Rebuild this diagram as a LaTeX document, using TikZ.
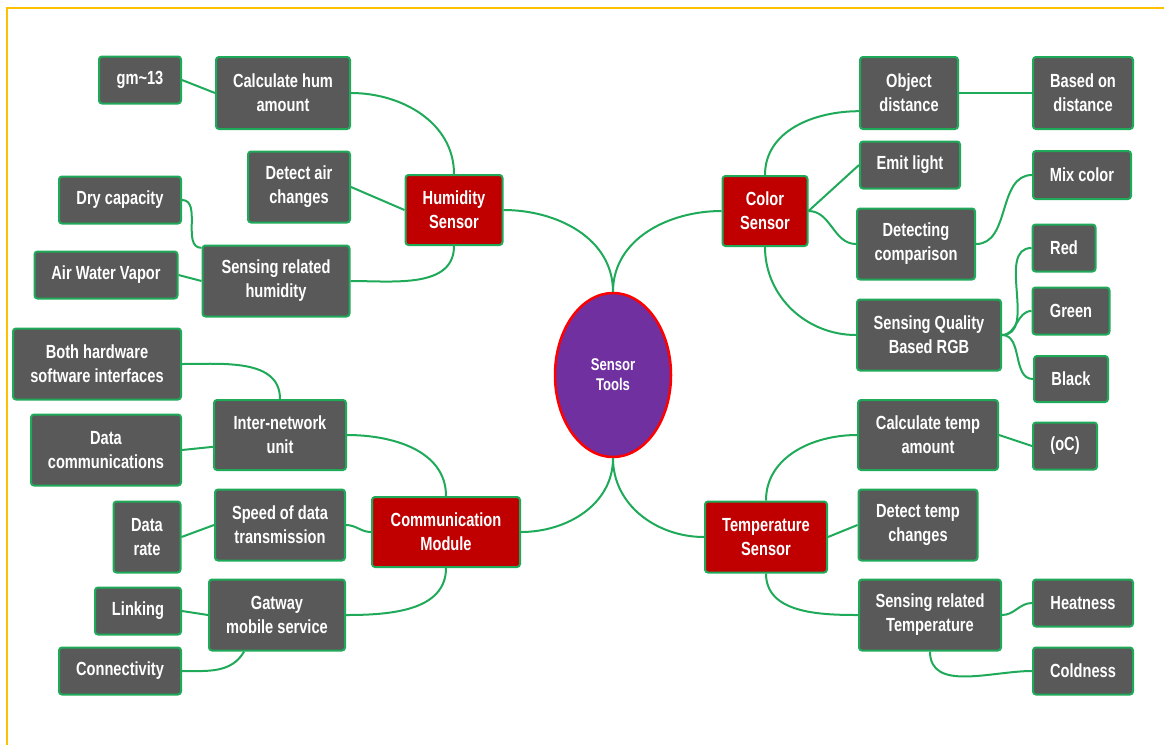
\documentclass[tikz,border=0pt]{standalone}
\usepackage{fontspec}
\newfontfamily\mapfont[FakeStretch=0.77]{Liberation Sans}
\usepackage{tikz}
\usetikzlibrary{shapes.geometric}
\usepackage{xcolor}
\definecolor{boxgray}{HTML}{595959}
\definecolor{boxred}{HTML}{C00000}
\definecolor{linkgreen}{HTML}{1FAA59}
\definecolor{hubpurple}{HTML}{7030A0}
\definecolor{framegold}{HTML}{FFC000}

\begin{document}
\begin{tikzpicture}[x=1pt,y=1pt]
\tikzset{leaf/.style={draw=linkgreen, fill=boxgray, line width=2pt, rounded corners=3pt, text=white, align=center, inner sep=2pt, font={\mapfont\bfseries\fontsize{19}{24}\selectfont}}}
\tikzset{branch/.style={leaf, fill=boxred}}
\tikzset{link/.style={draw=linkgreen, line width=2pt}}

\useasboundingbox (0,0) rectangle (1164,-745);
\draw [framegold, line width=2pt] (7,-745) -- (7,-8) -- (1164,-8);

% centre
\node [ellipse, draw=red, fill=hubpurple, line width=2.5pt, minimum width=116, minimum height=164, text=white, align=center, font={\mapfont\bfseries\fontsize{17}{20}\selectfont}] (hub) at (613,-375) {Sensor\\Tools};

% humidity
\node [branch, minimum width=97, minimum height=70] (hum) at (454,-210) {Humidity\\Sensor};
\node [leaf, minimum width=134, minimum height=72] (calchum) at (283,-93) {Calculate hum\\amount};
\node [leaf, minimum width=82, minimum height=47] (gm) at (140,-80) {gm\textasciitilde13};
\node [leaf, minimum width=102, minimum height=71] (detair) at (299,-187) {Detect air\\changes};
\node [leaf, minimum width=122, minimum height=47] (dry) at (120,-200) {Dry capacity};
\node [leaf, minimum width=147, minimum height=71] (senshum) at (276,-281) {Sensing related\\humidity};
\node [leaf, minimum width=143, minimum height=47] (vapor) at (106,-275) {Air Water Vapor};

% color
\node [branch, minimum width=85, minimum height=70] (color) at (765,-211) {Color\\Sensor};
\node [leaf, minimum width=98, minimum height=72] (objdist) at (909,-93) {Object\\distance};
\node [leaf, minimum width=100, minimum height=72] (based) at (1083,-93) {Based on\\distance};
\node [leaf, minimum width=100, minimum height=47] (emit) at (910,-165) {Emit light};
\node [leaf, minimum width=98, minimum height=48] (mix) at (1082,-175) {Mix color};
\node [leaf, minimum width=118, minimum height=71] (detcomp) at (916,-244) {Detecting\\comparison};
\node [leaf, minimum width=63, minimum height=47] (red) at (1064,-248) {Red};
\node [leaf, minimum width=77, minimum height=47] (green) at (1071,-311) {Green};
\node [leaf, minimum width=74, minimum height=46] (black) at (1071,-379) {Black};
\node [leaf, minimum width=144, minimum height=71] (sqrgb) at (929,-335) {Sensing Quality\\Based RGB};

% temperature
\node [branch, minimum width=122, minimum height=71] (temp) at (766,-537) {Temperature\\Sensor};
\node [leaf, minimum width=140, minimum height=70] (calctemp) at (928,-435) {Calculate temp\\amount};
\node [leaf, minimum width=64, minimum height=47] (oc) at (1065,-446) {(oC)};
\node [leaf, minimum width=119, minimum height=71] (dettemp) at (918,-525) {Detect temp\\changes};
\node [leaf, minimum width=142, minimum height=71] (senstemp) at (930,-615) {Sensing related\\Temperature};
\node [leaf, minimum width=100, minimum height=47] (heat) at (1083,-603) {Heatness};
\node [leaf, minimum width=100, minimum height=47] (cold) at (1083,-671) {Coldness};

% communication
\node [branch, minimum width=148, minimum height=70] (comm) at (446,-532) {Communication\\Module};
\node [leaf, minimum width=132, minimum height=70] (internet) at (280,-435) {Inter-network\\unit};
\node [leaf, minimum width=168, minimum height=71] (both) at (97,-364) {Both hardware\\software interfaces};
\node [leaf, minimum width=150, minimum height=71] (datacomm) at (106,-450) {Data\\communications};
\node [leaf, minimum width=130, minimum height=71] (speed) at (280,-525) {Speed of data\\transmission};
\node [leaf, minimum width=67, minimum height=71] (datarate) at (147,-537) {Data\\rate};
\node [leaf, minimum width=136, minimum height=71] (gatway) at (277,-615) {Gatway\\mobile service};
\node [leaf, minimum width=86, minimum height=47] (linking) at (138,-611) {Linking};
\node [leaf, minimum width=122, minimum height=47] (connect) at (120,-671) {Connectivity};

% links
\draw [link] (hub.north) to[out=90,in=0] (hum.east);
\draw [link] (hub.north) to[out=90,in=180] (color.west);
\draw [link] (hub.south) to[out=-90,in=0] (comm.east);
\draw [link] (hub.south) to[out=-90,in=180] (temp.west);

\draw [link] (hum.north) to[out=90,in=0] (calchum.east);
\draw [link] (hum.west) -- (detair.east);
\draw [link] (hum.south) to[out=-90,in=0] (senshum.east);
\draw [link] (calchum.west) -- (gm.east);
\draw [link] (dry.east) to[out=0,in=180] (senshum.156);
\draw [link] (vapor.east) -- (senshum.west);

\draw [link] (color.north) to[out=90,in=180] (objdist.200);
\draw [link] (color.east) -- (emit.west);
\draw [link] (color.east) to[out=0,in=180] (detcomp.west);
\draw [link] (color.south) to[out=-90,in=180] (sqrgb.west);
\draw [link] (objdist.east) -- (based.west);
\draw [link] (detcomp.east) to[out=0,in=180] (mix.west);
\draw [link] (sqrgb.east) to[out=0,in=180] (red.west);
\draw [link] (sqrgb.east) to[out=0,in=180] (green.west);
\draw [link] (sqrgb.east) to[out=0,in=180] (black.west);

\draw [link] (temp.north) to[out=90,in=180] (calctemp.west);
\draw [link] (temp.east) -- (dettemp.west);
\draw [link] (temp.south) to[out=-90,in=180] (senstemp.west);
\draw [link] (calctemp.east) -- (oc.west);
\draw [link] (senstemp.east) to[out=0,in=180] (heat.west);
\draw [link] (senstemp.south) to[out=-90,in=180] (cold.west);

\draw [link] (comm.north) to[out=90,in=0] (internet.east);
\draw [link] (comm.west) to[out=180,in=0] (speed.east);
\draw [link] (comm.south) to[out=-90,in=0] (gatway.east);
\draw [link] (internet.190) -- (datacomm.east);
\draw [link] (internet.north) to[out=90,in=0] (both.east);
\draw [link] (speed.west) -- (datarate.east);
\draw [link] (gatway.west) -- (linking.east);
\draw [link] (gatway.-132) to[out=-120,in=0] (connect.east);
\end{tikzpicture}
\end{document}
